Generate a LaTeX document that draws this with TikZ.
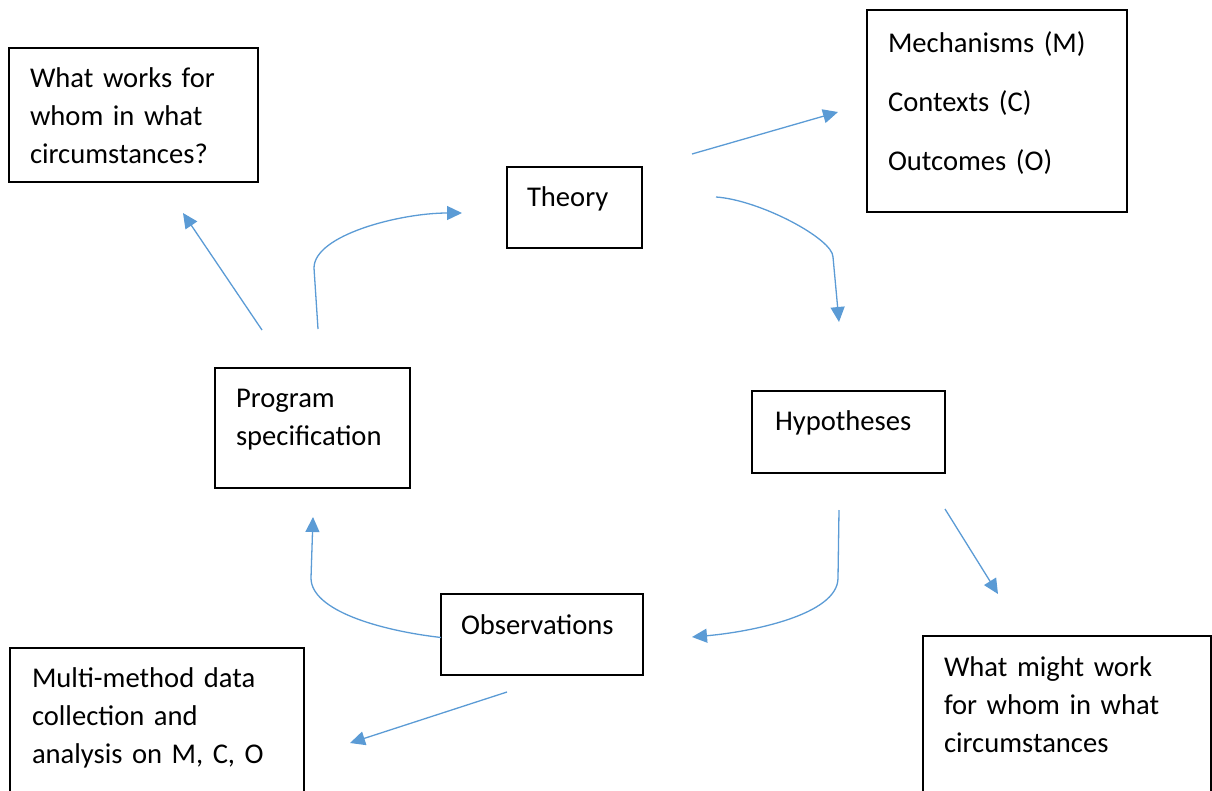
\documentclass[tikz,border=0pt]{standalone}
\usepackage{fontspec}
\setmainfont{Carlito}
\usepackage{tikz}
\usetikzlibrary{arrows.meta}
\definecolor{flowblue}{RGB}{91,155,213}
\tikzset{%
   box/.style={
      draw,
      line width=1.5pt,
      anchor=north west,
      align=left,
      inner ysep=0pt,
      outer sep=0pt,
      font=\fontsize{28.6}{38}\selectfont
   },
   boxsize/.style n args={4}{
      inner xsep=#1,
      text width=#2,
      text height=#3,
      text depth=#4
   },
   flow/.style={
      draw=flowblue,
      line width=1.3pt,
      -{Triangle[length=15pt,width=14pt]}
   },
}
\begin{document}
\begin{tikzpicture}[x=1pt, y=-1pt]
   \clip (0,0) rectangle (1212,790);
   \node[box, boxsize={21pt}{207pt}{39pt}{95pt}] (works) at (9,48) {What works for\\whom in what\\circumstances?};
   \node[box, boxsize={20pt}{95pt}{39pt}{42pt}] (theory) at (507,167) {Theory};
   \node[box, boxsize={21pt}{218pt}{42pt}{160pt}] (mech) at (867,10) {Mechanisms (M)\\[21pt]Contexts (C)\\[21pt]Outcomes (O)};
   \node[box, boxsize={21pt}{153pt}{39pt}{81pt}] (prog) at (215,368) {Program\\specification};
   \node[box, boxsize={23pt}{147pt}{39pt}{43pt}] (hyp) at (752,391) {Hypotheses};
   \node[box, boxsize={20pt}{162pt}{40pt}{41pt}] (obs) at (441,594) {Observations};
   \node[box, boxsize={22pt}{250pt}{39pt}{113pt}] (multi) at (10,648) {Multi-method data\\collection and\\analysis on M, C, O};
   \node[box, boxsize={21pt}{246pt}{40pt}{124pt}] (might) at (923,636) {What might work\\for whom in what\\circumstances};
   \draw[flow] ([shift={(47,-38)}]prog.north west) -- ([shift={(174,31)}]works.south west);
   \draw[flow] ([shift={(103,-39)}]prog.north west) -- ([shift={(99,-100)}]prog.north west)
      .. controls ([shift={(99,-133)}]prog.north west) and ([shift={(185,-155)}]prog.north west)
      .. ([shift={(-45,46)}]theory.north west);
   \draw[flow] ([shift={(50,-13)}]theory.north east) -- ([shift={(-29,102)}]mech.north west);
   \draw[flow] ([shift={(74,30)}]theory.north east)
      .. controls ([shift={(118,33)}]theory.north east) and ([shift={(191,72)}]theory.north east)
      .. ([shift={(81,-134)}]hyp.north west) -- ([shift={(87,-69)}]hyp.north west);
   \draw[flow] ([shift={(0,36)}]hyp.south east) -- ([shift={(75,-42)}]might.north west);
   \draw[flow] ([shift={(87,37)}]hyp.south west) -- ([shift={(86,105)}]hyp.south west)
      .. controls ([shift={(86,142)}]hyp.south west) and ([shift={(-2,159)}]hyp.south west)
      .. ([shift={(49,43)}]obs.north east);
   \draw[flow] ([shift={(0,3)}]obs.west)
      .. controls ([shift={(-61,-4)}]obs.west) and ([shift={(-130,-24)}]obs.west)
      .. ([shift={(96,90)}]prog.south west) -- ([shift={(98,29)}]prog.south west);
   \draw[flow] ([shift={(66,17)}]obs.south west) -- ([shift={(46,95)}]multi.north east);
\end{tikzpicture}
\end{document}
